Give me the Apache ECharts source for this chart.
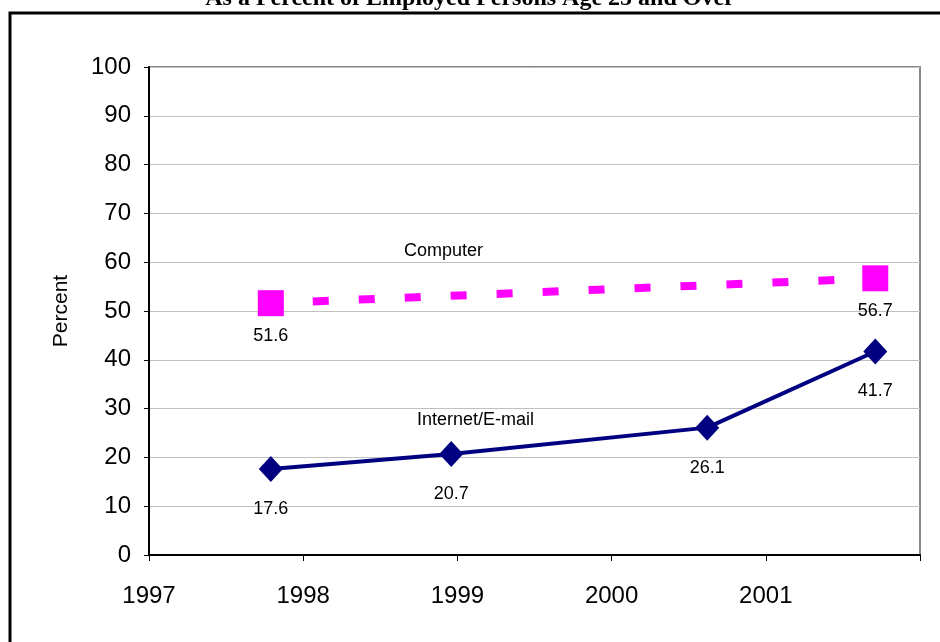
<!DOCTYPE html>
<html>
<head>
<meta charset="utf-8">
<script src="https://cdn.jsdelivr.net/npm/echarts@6/dist/echarts.min.js"></script>
<style>
  html, body { margin: 0; padding: 0; background: #fff; }
  #chart { width: 940px; height: 642px; }
</style>
</head>
<body>
<div id="chart"></div>
<script>
// survey dates as fractional years
var computerYears = [1997.79, 2001.71];
var computerValues = [51.6, 56.7];
var internetYears = [1997.79, 1998.96, 2000.62, 2001.71];
var internetValues = [17.6, 20.7, 26.1, 41.7];
var xTickLabels = ["1997", "1998", "1999", "2000", "2001"];

function pairs(xs, ys) {
  return xs.map(function (x, i) { return [x, ys[i]]; });
}

var chart = echarts.init(document.getElementById("chart"));
var font = "Liberation Sans, Arial, sans-serif";

chart.setOption({
  backgroundColor: "#fff",
  animation: false,
  graphic: [
    {
      type: "rect",
      shape: { x: 10, y: 13, width: 1000, height: 700 },
      style: { fill: "none", stroke: "#000", lineWidth: 3 },
      z: 0
    },
    {
      type: "text",
      left: "center",
      top: -13,
      style: {
        text: "As a Percent of Employed Persons Age 25 and Over",
        font: "bold 24px 'Liberation Serif', 'Times New Roman', serif",
        fill: "#000"
      }
    },
    {
      type: "text",
      x: 404, y: 242,
      style: { text: "Computer", font: "18px " + font, fill: "#000" }
    },
    {
      type: "text",
      x: 417, y: 411,
      style: { text: "Internet/E-mail", font: "18px " + font, fill: "#000" }
    }
  ],
  grid: {
    left: 149, right: 20, top: 67, bottom: 87,
    show: true, borderColor: "#888", borderWidth: 2
  },
  xAxis: {
    type: "value",
    min: 1997, max: 2002, interval: 1,
    axisLine: { lineStyle: { color: "#000", width: 2 } },
    axisTick: { show: true, length: 6, lineStyle: { color: "#000" } },
    splitLine: { show: false },
    axisLabel: {
      margin: 29,
      fontSize: 24,
      fontFamily: font,
      color: "#000",
      formatter: function (v) {
        var i = Math.round(v) - 1997;
        return xTickLabels[i] || "";
      }
    }
  },
  yAxis: {
    type: "value",
    min: 0, max: 100, interval: 10,
    name: "Percent",
    nameLocation: "middle",
    nameGap: 77,
    nameRotate: 90,
    nameTextStyle: { fontSize: 21, fontFamily: font, color: "#000" },
    axisLine: { show: true, lineStyle: { color: "#000", width: 2 } },
    axisTick: { show: true, length: 5, lineStyle: { color: "#000" } },
    splitLine: { lineStyle: { color: "#c0c0c0", width: 1 } },
    axisLabel: { fontSize: 24, fontFamily: font, color: "#000", margin: 18 }
  },
  series: [
    {
      name: "Computer",
      type: "line",
      data: pairs(computerYears, computerValues),
      symbol: "rect",
      symbolSize: 26,
      itemStyle: { color: "#ff00ff" },
      lineStyle: {
        color: "#ff00ff", width: 8, type: [16, 30], dashOffset: 4, cap: "butt"
      },
      label: {
        show: true, position: "bottom", distance: 11,
        fontSize: 18, fontFamily: font, color: "#000"
      },
      z: 3
    },
    {
      name: "Internet/E-mail",
      type: "line",
      data: pairs(internetYears, internetValues),
      symbol: "diamond",
      symbolSize: [24, 26],
      itemStyle: { color: "#000080" },
      lineStyle: { color: "#000080", width: 4 },
      label: {
        show: true, position: "bottom", distance: 18,
        fontSize: 18, fontFamily: font, color: "#000"
      },
      z: 3
    }
  ]
});
</script>
</body>
</html>
